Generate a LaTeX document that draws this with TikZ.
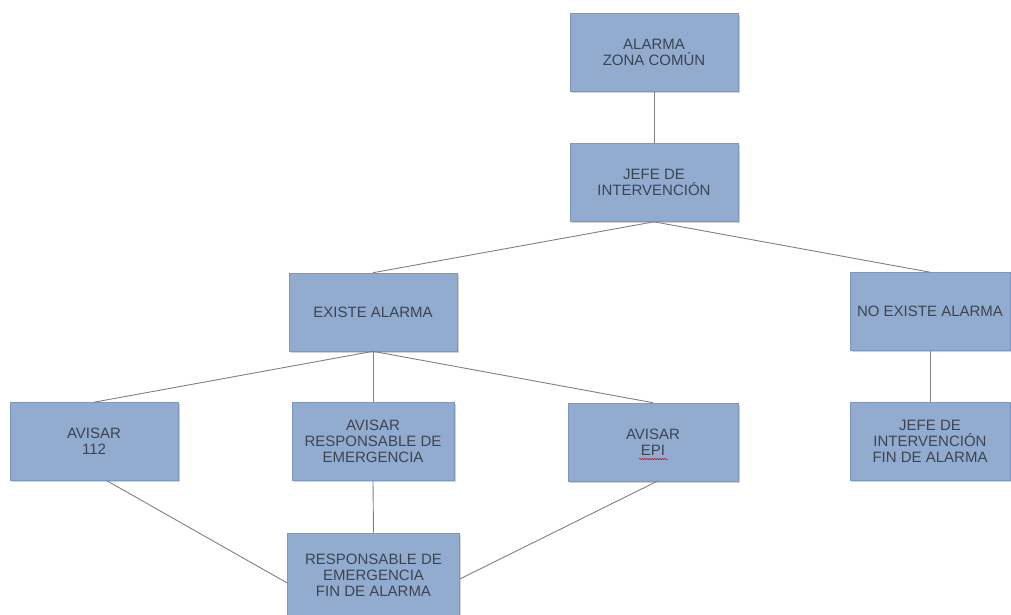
\documentclass[tikz,border=0pt]{standalone}
\usepackage{fontspec}
\setmainfont{Liberation Sans}
\usetikzlibrary{shadows,decorations.pathmorphing}

\definecolor{cajaFill}{RGB}{146,172,208}
\definecolor{cajaBorde}{RGB}{125,152,192}
\definecolor{cajaTexto}{RGB}{60,68,82}
\definecolor{enlaceGris}{RGB}{128,128,128}

\tikzset{
  caja/.style={draw=cajaBorde, fill=cajaFill, line width=0.6pt,
    minimum width=168pt, minimum height=78pt, inner sep=0pt,
    align=center, text=cajaTexto,
    font=\fontsize{15}{16}\selectfont,
    drop shadow={shadow xshift=1.5pt, shadow yshift=-1.5pt, opacity=0.35}},
  enlace/.style={draw=enlaceGris, line width=0.9pt}
}

\begin{document}
\begin{tikzpicture}[x=1pt,y=-1pt]

    \useasboundingbox[fill=white] (0,0) rectangle (1011,614);

    \node[caja] (AlarmaZona) at (654,52.5) {ALARMA\\ZONA COMÚN};
    \node[caja] (JefeInt) at (654,182.5) {JEFE DE\\INTERVENCIÓN};

    \node[caja] (ExisteAl) at (373,312) {EXISTE ALARMA};
    \node[caja,minimum width=160pt] (NoExisteAl) at (930,311.5) {NO EXISTE ALARMA};

    \node[caja] (Avisar112) at (94,441.5) {AVISAR\\112};
    \node[caja,minimum width=162pt] (AvisarResp) at (373,441.5)
    {AVISAR\\RESPONSABLE DE\\EMERGENCIA};
    \node[caja,minimum width=170pt] (AvisarEPI) at (653,442) {AVISAR\\EPI};
    \node[caja,minimum width=160pt] (JefeFin) at (930,441.5)
    {JEFE DE\\INTERVENCIÓN\\FIN DE ALARMA};

    \node[caja,minimum width=172pt,minimum height=84pt] (RespFin) at (373.5,575)
    {RESPONSABLE DE\\EMERGENCIA\\FIN DE ALARMA};

    % subrayado del corrector bajo EPI
    \draw[red!80!black, line width=0.5pt,
      decorate, decoration={snake, amplitude=0.6pt, segment length=2.5pt}]
    (639,459) -- (668,459);

    \draw[enlace] (AlarmaZona.south) -- (JefeInt.north);
    \draw[enlace] (JefeInt.south) -- (ExisteAl.north);
    \draw[enlace] (JefeInt.south) -- (NoExisteAl.north);
    \draw[enlace] (ExisteAl.south) -- (Avisar112.north);
    \draw[enlace] (ExisteAl.south) -- (AvisarResp.north);
    \draw[enlace] (ExisteAl.south) -- (AvisarEPI.north);
    \draw[enlace] (NoExisteAl.south) -- (JefeFin.north);
    \draw[enlace] ([xshift=13pt]Avisar112.south) -- ([yshift=-8pt]RespFin.west);
    \draw[enlace] (AvisarResp.south) -- (RespFin.north);
    \draw[enlace] ([xshift=4pt]AvisarEPI.south) -- ([yshift=-4pt]RespFin.east);

\end{tikzpicture}
\end{document}
